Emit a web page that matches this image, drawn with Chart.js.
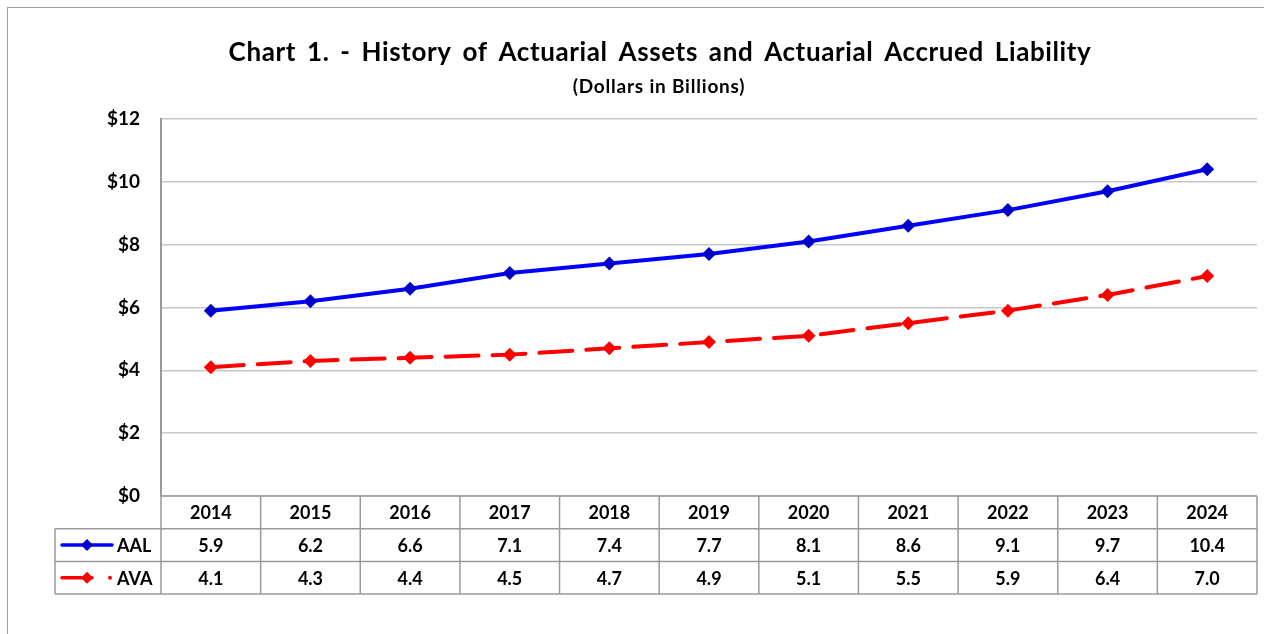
<!DOCTYPE html>
<html>
<head>
<meta charset="utf-8">
<script src="https://cdn.jsdelivr.net/npm/chart.js@4"></script>
<style>
  html, body { margin: 0; padding: 0; background: #fff; overflow: hidden; }
  #frame { position: absolute; left: 7px; top: 7px; width: 1280px; height: 700px; border: 1.5px solid #a0a0a0; box-sizing: border-box; }
  #chart { position: absolute; left: 0; top: 0; }
</style>
</head>
<body>
<div id="frame"></div>
<canvas id="chart" width="1264" height="634"></canvas>
<script>
// --- Datos ---
const years = ['2014', '2015', '2016', '2017', '2018', '2019', '2020', '2021', '2022', '2023', '2024'];
const aal = [5.9, 6.2, 6.6, 7.1, 7.4, 7.7, 8.1, 8.6, 9.1, 9.7, 10.4];
const ava = [4.1, 4.3, 4.4, 4.5, 4.7, 4.9, 5.1, 5.5, 5.9, 6.4, 7.0];
const yTicks = [0, 2, 4, 6, 8, 10, 12];

const FONT = 'Lato, "Open Sans", sans-serif';
const GRID = '#c8c8c8';
const TABLE_LINE = '#9a9a9a';

// --- Plugin: título y tabla de datos ---
const tablePlugin = {
  id: 'dataTable',
  afterDraw(chart) {
    const ctx = chart.ctx;
    const area = chart.chartArea;
    const x = chart.scales.x;
    const rowH = 32.7;
    const top = area.bottom;
    const legendLeft = 55;
    const colW = (area.right - area.left) / years.length;

    ctx.save();
    // titulo
    ctx.fillStyle = '#000';
    ctx.textAlign = 'center';
    ctx.textBaseline = 'middle';
    ctx.font = 'bold 26px ' + FONT;
    ctx.letterSpacing = '0.6px';
    ctx.wordSpacing = '4px';
    ctx.fillText('Chart 1. - History of Actuarial Assets and Actuarial Accrued Liability', 660, 53);
    ctx.font = 'bold 19px ' + FONT;
    ctx.letterSpacing = '0.8px';
    ctx.wordSpacing = '0px';
    ctx.fillText('(Dollars in Billions)', 659, 87);
    ctx.letterSpacing = '0px';

    // lineas de la tabla
    ctx.strokeStyle = TABLE_LINE;
    ctx.lineWidth = 1.5;
    ctx.beginPath();
    ctx.moveTo(area.left, top); ctx.lineTo(area.right, top);
    ctx.moveTo(legendLeft, top + rowH); ctx.lineTo(area.right, top + rowH);
    ctx.moveTo(legendLeft, top + 2 * rowH); ctx.lineTo(area.right, top + 2 * rowH);
    ctx.moveTo(legendLeft, top + 3 * rowH); ctx.lineTo(area.right, top + 3 * rowH);
    ctx.moveTo(legendLeft, top + rowH); ctx.lineTo(legendLeft, top + 3 * rowH);
    for (let i = 0; i <= years.length; i++) {
      const cx = area.left + i * colW;
      ctx.moveTo(cx, top); ctx.lineTo(cx, top + 3 * rowH);
    }
    ctx.stroke();

    // textos
    ctx.fillStyle = '#000';
    ctx.font = 'bold 18px ' + FONT;
    years.forEach((y, i) => {
      const cx = x.getPixelForValue(i);
      ctx.fillText(y, cx, top + rowH * 0.5 + 1);
      ctx.fillText(aal[i].toFixed(1), cx, top + rowH * 1.5 + 1);
      ctx.fillText(ava[i].toFixed(1), cx, top + rowH * 2.5 + 1);
    });

    // leyenda
    ctx.textAlign = 'left';
    ctx.fillText('AAL', 117, top + rowH * 1.5 + 1);
    ctx.fillText('AVA', 117, top + rowH * 2.5 + 1);

    const drawDiamond = (cx, cy, r, color) => {
      ctx.fillStyle = color;
      ctx.beginPath();
      ctx.moveTo(cx, cy - r); ctx.lineTo(cx + r, cy); ctx.lineTo(cx, cy + r); ctx.lineTo(cx - r, cy);
      ctx.closePath();
      ctx.fill();
    };
    ctx.lineCap = 'round';
    ctx.lineWidth = 3.5;
    let ly = top + rowH * 1.5;
    ctx.strokeStyle = '#0000ff';
    ctx.beginPath(); ctx.moveTo(62, ly); ctx.lineTo(112, ly); ctx.stroke();
    drawDiamond(87, ly, 6, '#0000c8');
    ly = top + rowH * 2.5;
    ctx.strokeStyle = '#ff0000';
    ctx.beginPath(); ctx.moveTo(62, ly); ctx.lineTo(92, ly); ctx.stroke();
    drawDiamond(87, ly, 6, '#ff0000');
    ctx.fillStyle = '#ff0000';
    ctx.beginPath(); ctx.arc(110, ly, 2, 0, Math.PI * 2); ctx.fill();
    ctx.restore();
  }
};

const ctx = document.getElementById('chart').getContext('2d');
new Chart(ctx, {
  type: 'line',
  data: {
    labels: years,
    datasets: [
      {
        label: 'AAL',
        data: aal,
        borderColor: '#0000ff',
        borderWidth: 4,
        pointStyle: 'rectRot',
        pointRadius: 7,
        pointBackgroundColor: '#0000c8',
        pointBorderColor: '#0000c8',
        pointBorderWidth: 0,
        tension: 0
      },
      {
        label: 'AVA',
        data: ava,
        borderColor: '#ff0000',
        borderWidth: 4,
        borderDash: [33, 14],
        borderCapStyle: 'round',
        pointStyle: 'rectRot',
        pointRadius: 7,
        pointBackgroundColor: '#ff0000',
        pointBorderColor: '#ff0000',
        pointBorderWidth: 0,
        tension: 0
      }
    ]
  },
  options: {
    responsive: false,
    animation: false,
    devicePixelRatio: 1,
    layout: { padding: { top: 119, bottom: 138, right: 6, left: 0 } },
    scales: {
      x: {
        display: false,
        offset: true
      },
      y: {
        min: 0,
        max: 12,
        afterFit: (scale) => { scale.width = 161; },
        afterBuildTicks: (scale) => { scale.ticks = yTicks.map(v => ({ value: v })); },
        border: { display: true, color: '#9a9a9a', width: 2 },
        grid: { color: GRID, lineWidth: 1.5, drawTicks: false },
        ticks: {
          padding: 21,
          color: '#000',
          font: { family: FONT, size: 19, weight: 'bold' },
          callback: (v) => '$' + v
        }
      }
    },
    plugins: {
      legend: { display: false },
      title: { display: false },
      tooltip: { enabled: false }
    }
  },
  plugins: [tablePlugin]
});
</script>
</body>
</html>
